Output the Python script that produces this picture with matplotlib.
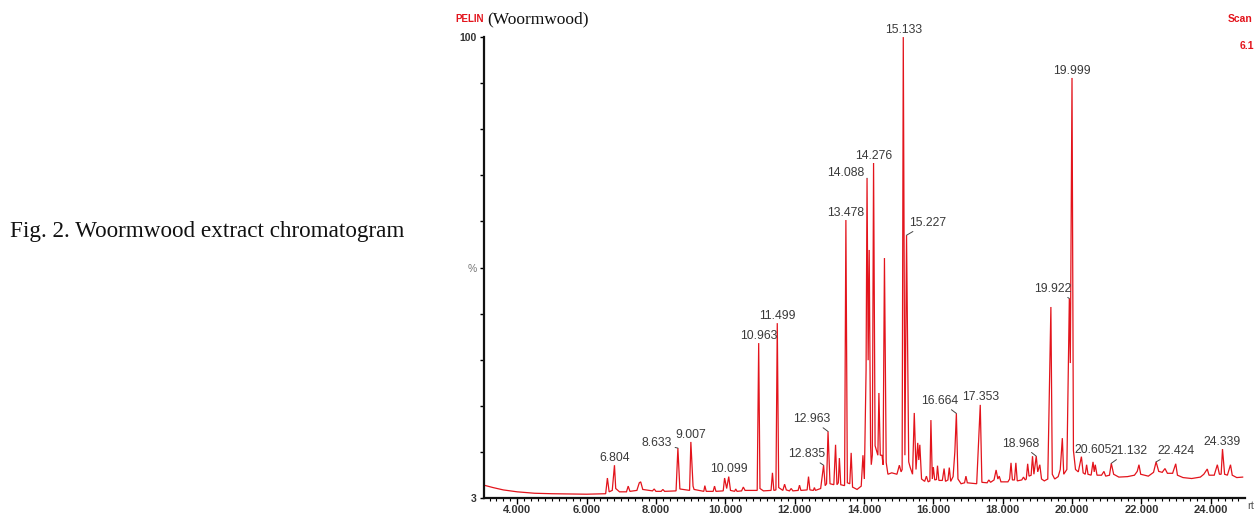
import matplotlib
matplotlib.use('Agg')
import matplotlib.pyplot as plt
import numpy as np

# --- Andmed: kromatogrammi jälg (retentsiooniaeg, min ; suhteline intensiivsus, %) ---
rt = [3.04, 3.3, 3.6, 4.0, 4.5, 5.0, 6.0, 6.55, 6.60, 6.65, 6.74, 6.804, 6.84, 6.95,
      7.15, 7.20, 7.25, 7.45, 7.52, 7.56, 7.62, 7.9, 7.95, 8.0, 8.15, 8.2, 8.25,
      8.58, 8.633, 8.69, 8.97, 9.007, 9.07, 9.1, 9.38, 9.41, 9.45, 9.65, 9.69, 9.73,
      9.94, 9.98, 10.04, 10.099, 10.15, 10.27, 10.30, 10.34, 10.47, 10.52, 10.57,
      10.92, 10.963, 11.00, 11.10, 11.32, 11.36, 11.40, 11.46, 11.499, 11.54, 11.66,
      11.71, 11.76, 11.85, 11.90, 11.95, 12.10, 12.14, 12.18, 12.36, 12.40, 12.44,
      12.54, 12.57, 12.60, 12.75, 12.835, 12.88, 12.92, 12.963, 13.02, 13.13, 13.18,
      13.22, 13.26, 13.29, 13.33, 13.44, 13.478, 13.52, 13.59, 13.63, 13.67, 13.80,
      13.92, 13.97, 14.01, 14.06, 14.088, 14.12, 14.15, 14.19, 14.21, 14.24, 14.276,
      14.32, 14.40, 14.43, 14.47, 14.52, 14.55, 14.59, 14.64, 14.69, 14.80, 14.95,
      15.02, 15.07, 15.10, 15.133, 15.18, 15.227, 15.29, 15.33, 15.40, 15.45, 15.50,
      15.55, 15.58, 15.61, 15.66, 15.75, 15.80, 15.85, 15.90, 15.93, 15.97, 16.00,
      16.04, 16.09, 16.12, 16.16, 16.26, 16.31, 16.35, 16.42, 16.46, 16.50, 16.57,
      16.62, 16.664, 16.71, 16.80, 16.90, 16.94, 16.98, 17.25, 17.353, 17.40, 17.55,
      17.60, 17.65, 17.75, 17.81, 17.86, 17.90, 17.95, 18.15, 18.20, 18.24, 18.28,
      18.34, 18.38, 18.42, 18.55, 18.60, 18.65, 18.68, 18.72, 18.76, 18.82, 18.86,
      18.90, 18.968, 19.01, 19.07, 19.12, 19.20, 19.30, 19.36, 19.39, 19.43, 19.50,
      19.60, 19.66, 19.72, 19.76, 19.85, 19.922, 19.95, 19.999, 20.04, 20.10, 20.18,
      20.27, 20.32, 20.38, 20.42, 20.46, 20.55, 20.605, 20.64, 20.67, 20.72, 20.85,
      20.92, 20.97, 21.08, 21.132, 21.20, 21.35, 21.60, 21.80, 21.88, 21.93, 21.98,
      22.20, 22.35, 22.424, 22.50, 22.60, 22.68, 22.75, 22.90, 22.99, 23.04, 23.20,
      23.45, 23.70, 23.80, 23.90, 23.95, 24.10, 24.19, 24.25, 24.30, 24.339, 24.40,
      24.48, 24.57, 24.62, 24.75, 24.92]
abundance = [5.7, 5.2, 4.7, 4.3, 4.0, 3.9, 3.8, 3.9, 7.2, 4.3, 4.6, 9.9, 5.0, 4.3,
             4.3, 5.5, 4.4, 4.6, 6.2, 6.4, 4.8, 4.5, 4.9, 4.4, 4.4, 4.8, 4.4,
             4.5, 13.5, 4.9, 4.6, 14.8, 5.5, 4.8, 4.4, 5.6, 4.4, 4.4, 5.5, 4.4,
             4.5, 7.2, 5.0, 7.5, 4.6, 4.4, 4.9, 4.4, 4.5, 5.3, 4.6,
             4.6, 35.6, 5.0, 4.5, 4.6, 8.3, 4.6, 4.7, 39.8, 5.2, 4.6,
             5.9, 4.7, 4.5, 5.0, 4.5, 4.6, 5.7, 4.6, 4.7, 7.5, 4.7,
             4.6, 5.2, 4.6, 5.0, 9.9, 5.6, 6.0, 17.0, 6.0, 5.8, 14.2,
             5.8, 6.2, 11.4, 5.8, 5.6, 61.5, 6.2, 6.0, 12.5, 5.3, 4.8,
             5.5, 12.0, 7.0, 29.9, 70.3, 32.0, 55.2, 14.0, 10.0, 12.0, 73.5,
             14.0, 12.0, 25.1, 12.0, 12.0, 10.0, 53.5, 10.5, 8.0, 8.3, 8.0,
             9.9, 8.5, 9.0, 100.0, 12.0, 58.3, 10.6, 9.5, 8.0, 20.9, 9.0,
             14.6, 11.0, 14.2, 7.0, 6.5, 7.6, 6.4, 6.6, 19.4, 7.0, 9.5,
             6.8, 6.9, 9.8, 6.7, 6.7, 9.2, 6.5, 6.8, 9.4, 6.5, 7.5,
             12.7, 20.8, 7.0, 6.0, 6.2, 7.6, 6.2, 6.0, 22.6, 6.3, 6.2,
             6.8, 6.3, 6.8, 8.9, 7.0, 7.6, 6.4, 6.4, 7.0, 10.4, 6.8,
             6.8, 10.4, 6.6, 6.8, 7.4, 6.8, 7.0, 10.2, 7.6, 7.8, 11.8,
             8.0, 11.8, 8.5, 10.0, 7.0, 6.6, 7.0, 30.6, 43.2, 8.0, 7.0,
             7.5, 9.0, 15.6, 8.0, 9.0, 45.0, 31.4, 91.4, 13.0, 9.0, 8.5,
             11.7, 8.3, 8.0, 10.0, 8.0, 7.8, 10.6, 8.5, 10.0, 7.8, 7.8,
             8.6, 7.6, 7.8, 10.3, 8.0, 7.4, 7.5, 7.8, 8.6, 10.0, 8.0,
             7.6, 8.4, 10.6, 8.6, 8.4, 9.2, 8.2, 8.2, 10.2, 7.8, 7.3,
             7.1, 7.4, 8.0, 9.1, 7.8, 7.8, 10.0, 8.0, 8.0, 13.3, 8.0,
             7.8, 10.0, 7.8, 7.3, 7.4]

# Märgistatud piigid
peak_labels = ['6.804', '8.633', '9.007', '10.099', '10.963', '11.499', '12.835',
               '12.963', '13.478', '14.088', '14.276', '15.133', '15.227', '16.664',
               '17.353', '18.968', '19.922', '19.999', '20.605', '21.132', '22.424',
               '24.339']

x_ticks = [4, 6, 8, 10, 12, 14, 16, 18, 20, 22, 24]
x_tick_labels = ['4.000', '6.000', '8.000', '10.000', '12.000', '14.000', '16.000',
                 '18.000', '20.000', '22.000', '24.000']

# Sildi nihked punktides (dx, dy, ha, juhtjoon)
label_offsets = {
    '8.633': (-4, 3.5, 'right', True),
    '12.835': (-12, 8, 'center', True),
    '12.963': (-12, 9, 'center', True),
    '14.088': (-2, 4, 'right', True),
    '15.227': (2, 9, 'left', True),
    '16.664': (-12, 9, 'center', True),
    '18.968': (-11.5, 9, 'center', True),
    '19.922': (-12, 7, 'center', True),
    '20.605': (0, 8.5, 'center', False),
    '21.132': (12.5, 9, 'center', True),
    '22.424': (14, 8, 'center', True),
}

RED = '#e3141c'
LABEL_COL = '#3a3a3a'
LABEL_SIZE = 8.8

fig = plt.figure(figsize=(12.58, 5.15), dpi=100)
ax = fig.add_axes([0.3847, 0.033, 0.6053, 0.895])

ax.plot(rt, abundance, color=RED, lw=0.9, solid_joinstyle='miter')

ax.set_xlim(3.04, 25.0)
ax.set_ylim(3, 100)

# Teljed
for side in ['top', 'right']:
    ax.spines[side].set_visible(False)
for side in ['left', 'bottom']:
    ax.spines[side].set_linewidth(1.6)
    ax.spines[side].set_color('#111111')

ax.set_xticks(x_ticks)
ax.set_xticklabels(x_tick_labels, fontsize=8, fontweight='bold', color='#333333',
                   family='Liberation Sans')
ax.set_xticks(np.arange(3.2, 25.0, 0.2), minor=True)
ax.tick_params(axis='x', which='major', length=4, width=1, pad=1)
ax.tick_params(axis='x', which='minor', length=2, width=0.8)

y_tick_vals = np.linspace(3, 100, 11)
y_tick_labels = ['3'] + [''] * 4 + ['%'] + [''] * 4 + ['100']
ax.set_yticks(y_tick_vals)
ax.set_yticklabels(y_tick_labels, fontsize=7.5, fontweight='bold', color='#333333',
                   family='Liberation Sans')
ax.tick_params(axis='y', length=3, width=1, pad=2)
ax.get_yticklabels()[5].set_fontweight('normal')
ax.get_yticklabels()[5].set_color('#777777')

ax.text(1.003, -0.006, 'rt', transform=ax.transAxes, fontsize=8, color='#555555',
        ha='left', va='top', family='Liberation Sans')

# Piikide sildid
for lbl in peak_labels:
    x = float(lbl)
    y = abundance[rt.index(x)]
    if lbl in label_offsets:
        dx, dy, ha, leader = label_offsets[lbl]
        props = dict(arrowstyle='-', lw=0.7, color='#444444', shrinkA=0, shrinkB=0) if leader else None
        ax.annotate(lbl, xy=(x, y), xytext=(dx, dy), textcoords='offset points',
                    ha=ha, va='center', fontsize=LABEL_SIZE, color=LABEL_COL,
                    family='Liberation Sans', arrowprops=props)
    else:
        ax.annotate(lbl, xy=(x, y), xytext=(0, 1), textcoords='offset points',
                    ha='center', va='bottom', fontsize=LABEL_SIZE, color=LABEL_COL,
                    family='Liberation Sans')

# Päis ja allkiri
fig.text(455 / 1258, 1 - 19 / 515, 'PELIN', color=RED, fontsize=7, fontweight='bold',
         family='Liberation Sans', va='center', ha='left')
fig.text(487 / 1258, 1 - 19 / 515, '(Woormwood)', color='#111111', fontsize=12.5,
         family='Liberation Serif', va='center', ha='left')
fig.text(1228 / 1258, 1 - 19 / 515, 'Scan', color=RED, fontsize=7.5, fontweight='bold',
         family='Liberation Sans', va='center', ha='left')
fig.text(1240 / 1258, 1 - 46 / 515, '6.1', color=RED, fontsize=7.5, fontweight='bold',
         family='Liberation Sans', va='center', ha='left')

fig.text(10 / 1258, 1 - 232 / 515, 'Fig. 2. Woormwood extract chromatogram',
         fontsize=16.7, family='Liberation Serif', color='#111111', va='center', ha='left')

fig.savefig('out.png', dpi=100)
